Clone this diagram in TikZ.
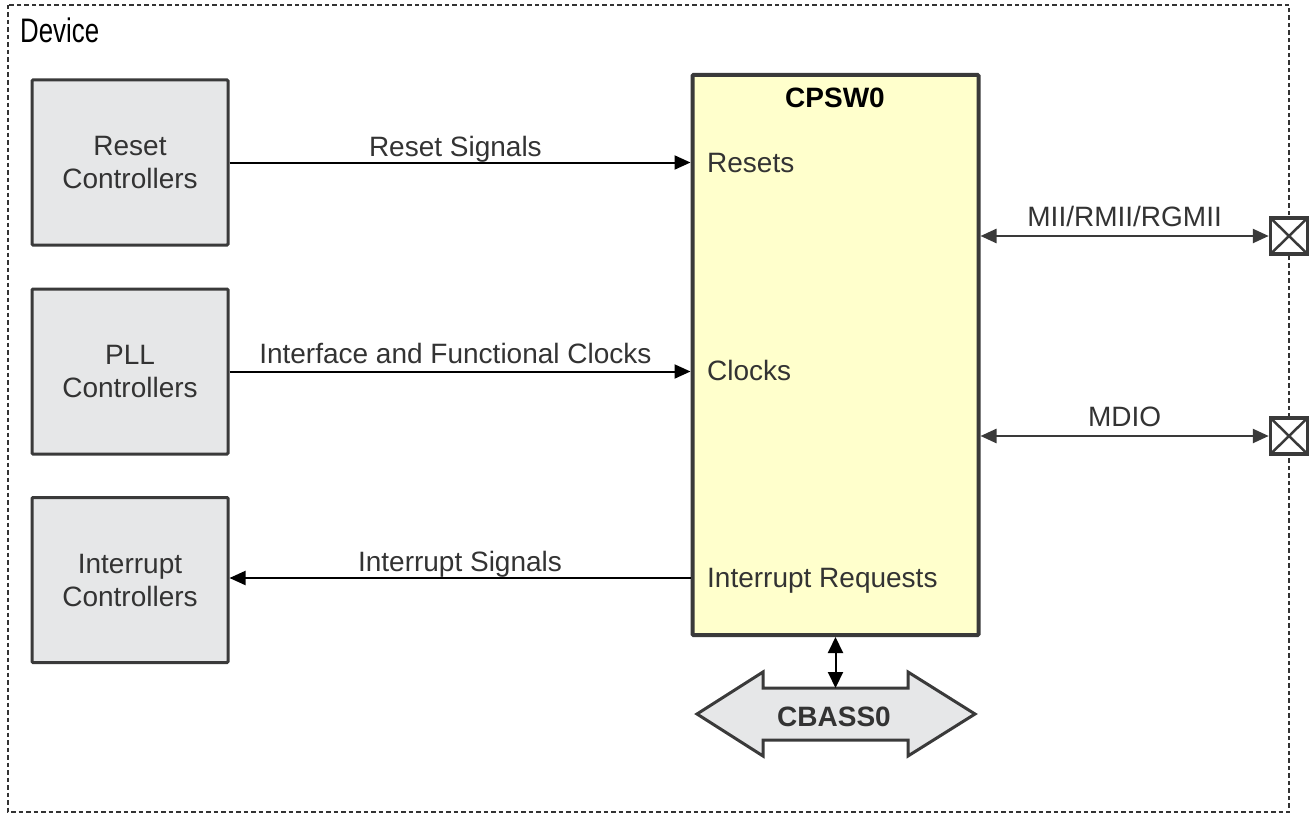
\documentclass[tikz,border=0pt]{standalone}
\usepackage{fontspec}
\setmainfont{Liberation Sans}
\newfontfamily\narrowfont[FakeStretch=0.76]{Liberation Sans}
\usetikzlibrary{arrows.meta,calc}
\definecolor{boxgray}{HTML}{E6E7E8}
\definecolor{cpswyellow}{HTML}{FFFFCC}
\definecolor{edge}{HTML}{3A3A3A}
\definecolor{txt}{HTML}{333333}
\tikzset{
  graybox/.style={draw=edge, fill=boxgray, line width=3pt, rounded corners=1pt,
    minimum width=196pt, minimum height=165pt, align=center, text=txt,
    font=\fontsize{28}{33}\selectfont},
  cpswbox/.style={draw=edge, fill=cpswyellow, line width=4pt, rounded corners=1pt,
    minimum width=286pt, minimum height=560pt},
  pinbox/.style={draw=edge, fill=white, line width=3.5pt, minimum width=37pt, minimum height=36pt,
    inner sep=0pt,
    path picture={\draw[edge, line width=2.5pt] (path picture bounding box.north west) -- (path picture bounding box.south east)
      (path picture bounding box.south west) -- (path picture bounding box.north east);}},
  sig/.style={black, line width=2pt, -{Triangle[length=16pt,width=14pt]}},
  bus/.style={edge, line width=2.5pt, {Triangle[length=16pt,width=14pt]}-{Triangle[length=16pt,width=14pt]}},
  lbl/.style={text=txt, font=\fontsize{28}{33}\selectfont, inner sep=0pt},
}
\begin{document}
\begin{tikzpicture}[x=1pt,y=-1pt]
\useasboundingbox (0,0) rectangle (1312,816);
% outer device frame
\draw[txt, line width=2.5pt, dash pattern=on 4.5pt off 3pt] (8,5) rectangle (1289,812);
\node[lbl, anchor=base west, font=\narrowfont\fontsize{34}{38}\selectfont, text=black] (device) at (20,43) {Device};

% left controllers
\node[graybox] (rst) at (130,162.5) {Reset\\Controllers};
\node[graybox] (pll) at (130,371.5) {PLL\\Controllers};
\node[graybox] (intc) at (130,580) {Interrupt\\Controllers};

% CPSW0
\node[cpswbox] (cpsw) at (835.5,355) {};
\node[lbl, anchor=base, text=black, font=\bfseries\fontsize{28}{33}\selectfont] (title) at (835,107) {CPSW0};
\node[lbl, anchor=base west] (lres) at (707,172) {Resets};
\node[lbl, anchor=base west] (lclk) at (707,380) {Clocks};
\node[lbl, anchor=base west] (lirq) at (707,587) {Interrupt Requests};

% signals
\draw[sig] (rst.east) -- (rst.east -| cpsw.west)
  node[lbl, pos=0.49, anchor=base, yshift=6pt] {Reset Signals};
\draw[sig] (pll.east) -- (pll.east -| cpsw.west)
  node[lbl, pos=0.49, anchor=base, yshift=8pt] {Interface and Functional Clocks};
\path (lirq.base west -| cpsw.west) ++(0,-9) coordinate (irqsrc);
\coordinate (irqdst) at (intc.east |- irqsrc);
\draw[sig] (irqsrc) -- (irqdst)
  node[lbl, pos=0.5, anchor=base, yshift=7pt] {Interrupt Signals};

% external pins
\node[pinbox] (pin1) at (1289,236) {};
\node[pinbox] (pin2) at (1289,436) {};
\draw[bus] (pin1.west -| cpsw.east) -- (pin1.west)
  node[lbl, pos=0.5, anchor=base, yshift=10pt] {MII/RMII/RGMII};
\draw[bus] (pin2.west -| cpsw.east) -- (pin2.west)
  node[lbl, pos=0.5, anchor=base, yshift=10pt] {MDIO};

% CBASS0 bus
\draw[edge, fill=boxgray, line width=3pt, line join=miter]
  (697,714) -- (763,672) -- (763,688) -- (908,688) -- (908,672) -- (975,714)
  -- (908,756) -- (908,740) -- (763,740) -- (763,756) -- cycle;
\node[lbl, anchor=base, font=\bfseries\fontsize{28}{33}\selectfont] (cbass) at (834,726) {CBASS0};
\coordinate (cbtop) at (835.5,688);
\draw[black, line width=2pt, {Triangle[length=16pt,width=15pt]}-{Triangle[length=16pt,width=15pt]}] (cpsw.south) -- (cbtop);
\end{tikzpicture}
\end{document}
